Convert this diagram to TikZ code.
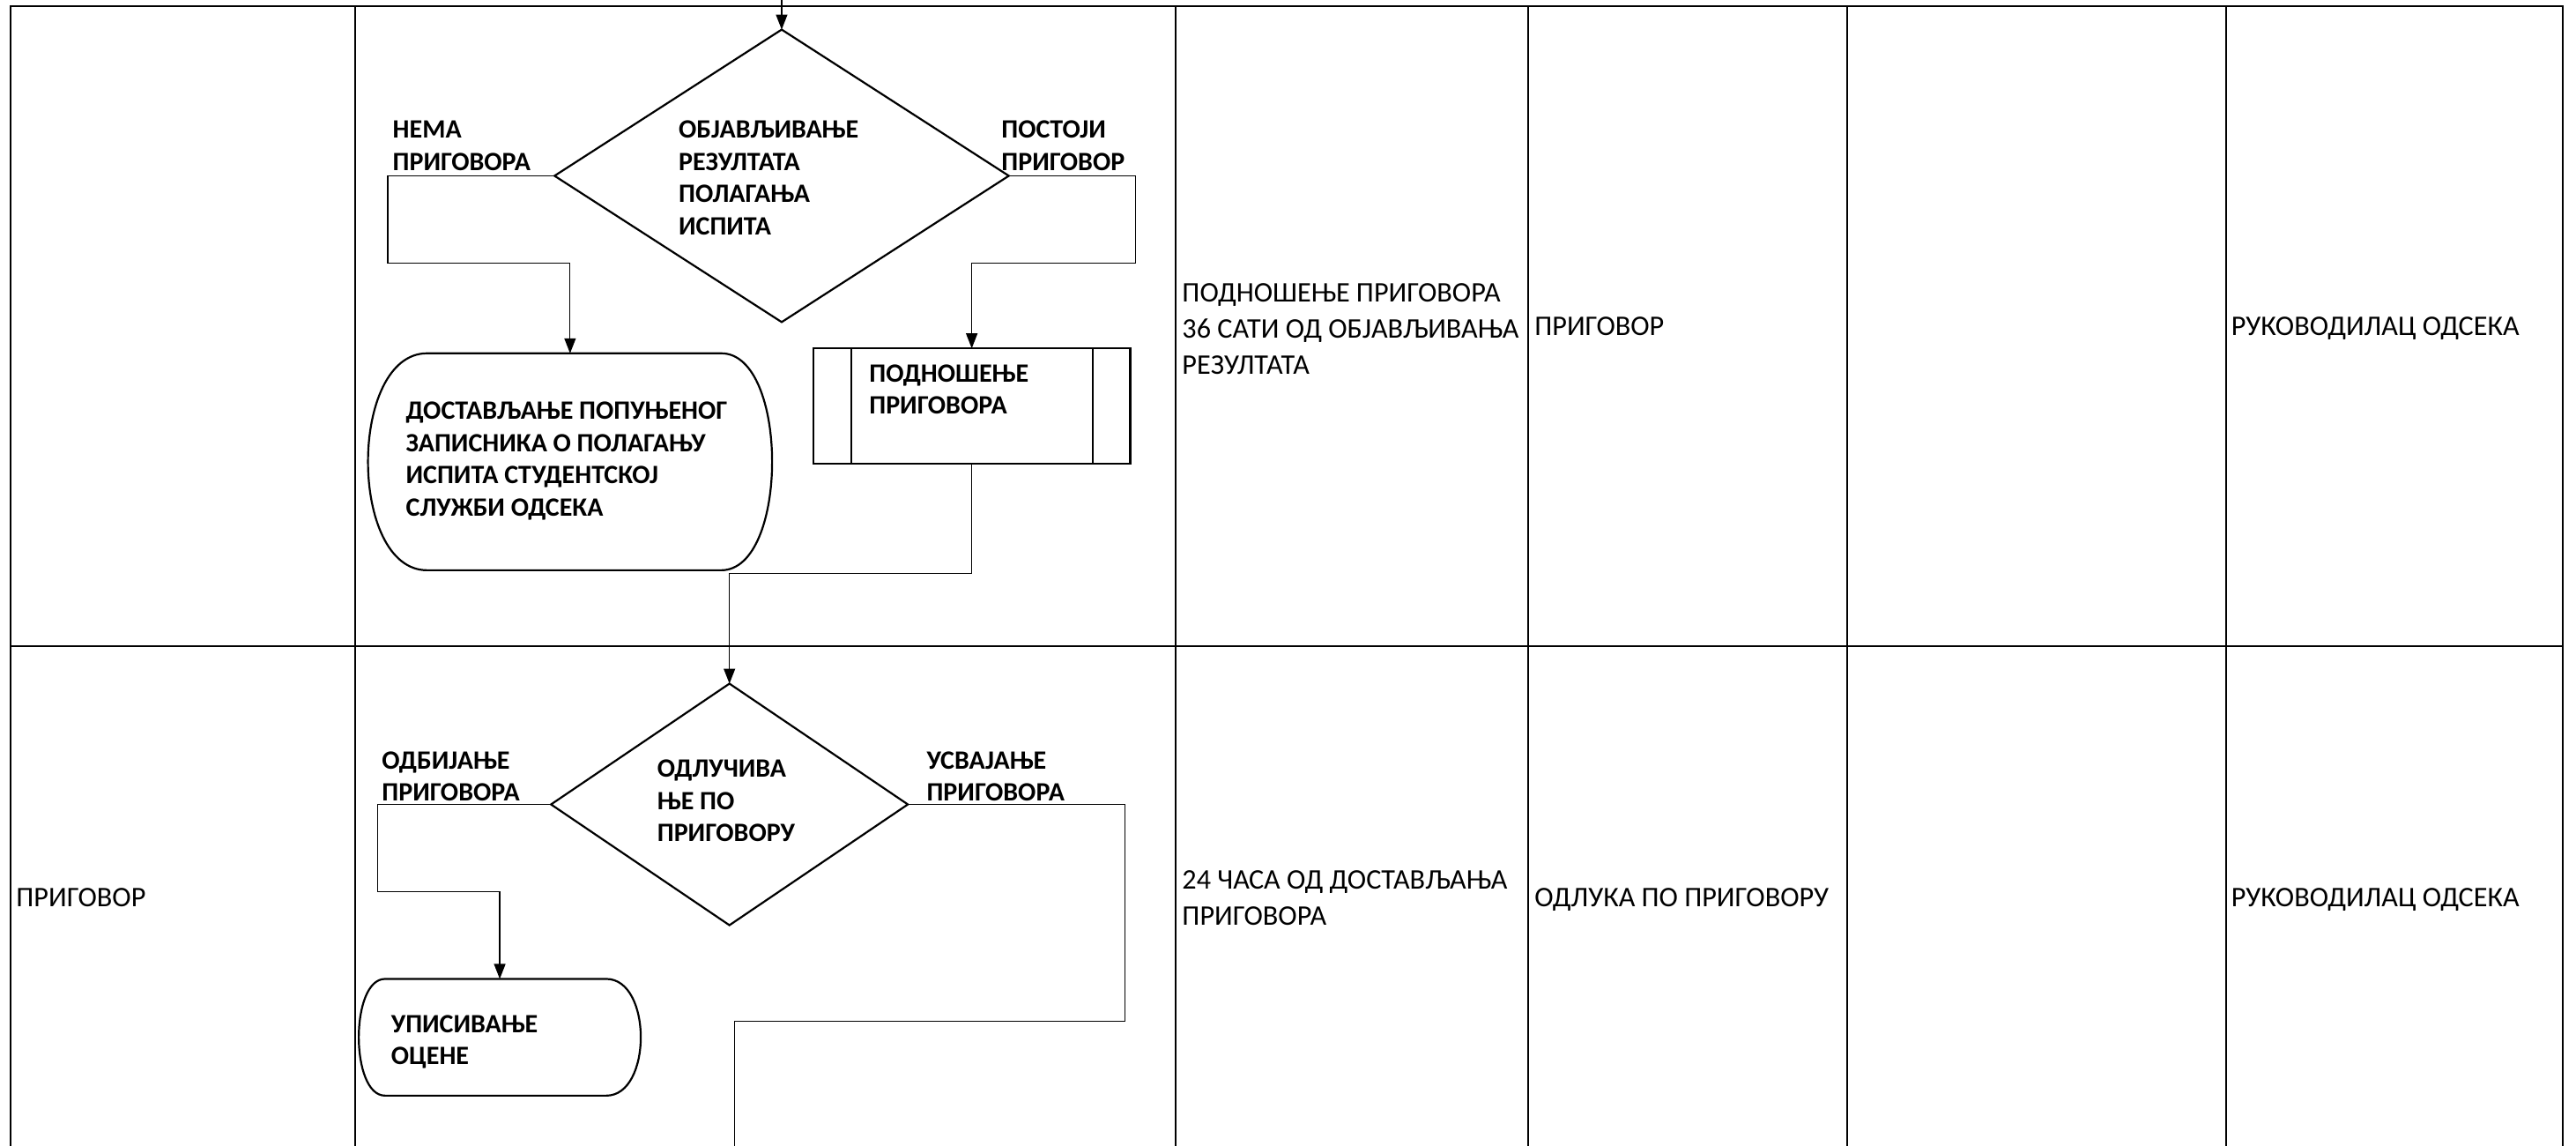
\documentclass[tikz,border=0pt]{standalone}
\usepackage{fontspec}
\setmainfont{Carlito}
\usetikzlibrary{shapes.geometric,arrows.meta,calc}

% type sizes: plain cell text and bold flowchart labels
\newcommand\celltext{\fontsize{32.2}{41}\selectfont}
\newcommand\flowtext{\fontsize{30}{36.5}\selectfont\bfseries}

\begin{document}
\begin{tikzpicture}[x=1.8642pt,y=-1.8642pt,
  gridline/.style={line width=2.4pt},
  shapeline/.style={line width=2.2pt},
  flow/.style={line width=1.2pt},
  arr/.style={flow,-{Triangle[length=17pt,width=13pt]}},
  decision/.style={diamond,draw,shapeline,inner sep=0pt,outer sep=0pt},
  subproc/.style={rectangle,draw,shapeline,inner sep=0pt,outer sep=0pt},
  termframe/.style={rectangle,draw=none,inner sep=0pt,outer sep=0pt},
  lbl/.style={anchor=north west,inner sep=0pt,align=left,font=\flowtext},
  cell/.style={anchor=north west,inner sep=0pt,align=left,font=\celltext},
]
\useasboundingbox (0,0) rectangle (1568,697);

% ---------- table grid ----------
\draw[gridline] (6.4,710) -- (6.4,3.75) -- (1560,3.75) -- (1560,710);
\draw[gridline] (6.4,393.2) -- (1560,393.2);
\foreach \cx in {216.2,715.6,930.2,1124.3,1355}
  \draw[gridline] (\cx,3.75) -- (\cx,710);

% ---------- cell texts ----------
\node[cell] (c31) at (719.5,168.3) {\strut ПОДНОШЕЊЕ ПРИГОВОРА\\36 САТИ ОД ОБЈАВЉИВАЊА\\РЕЗУЛТАТА};
\node[cell] (c41) at (934,188.8) {\strut ПРИГОВОР};
\node[cell] (c61) at (1358,188.8) {\strut РУКОВОДИЛАЦ ОДСЕКА};
\node[cell] (c12) at (9.8,536.3) {\strut ПРИГОВОР};
\node[cell] (c32) at (719.5,525.3) {\strut 24 ЧАСА ОД ДОСТАВЉАЊА\\ПРИГОВОРА};
\node[cell] (c42) at (934,536.3) {\strut ОДЛУКА ПО ПРИГОВОРУ};
\node[cell] (c62) at (1358,536.3) {\strut РУКОВОДИЛАЦ ОДСЕКА};

% ---------- flowchart shapes ----------
\node[decision,minimum width=515.5pt,minimum height=331.8pt] (d1) at (475.8,107) {};
\node[subproc,minimum width=359.8pt,minimum height=130.5pt] (sp) at (591.5,247) {};
\draw[shapeline] ($(sp.north west)+(23,0)$) -- ($(sp.south west)+(23,0)$);
\draw[shapeline] ($(sp.north east)+(-23,0)$) -- ($(sp.south east)+(-23,0)$);

\node[termframe,minimum width=458.6pt,minimum height=246.1pt] (t1) at (347,281) {};
\draw[shapeline] ($(t1.north west)+(36,0)$) -- ($(t1.north east)+(-31,0)$)
  .. controls ($(t1.north east)+(10.3,0)$) and ($(t1.south east)+(10.3,0)$) .. ($(t1.south east)+(-31,0)$)
  -- ($(t1.south west)+(36,0)$)
  .. controls ($(t1.south west)+(-12,0)$) and ($(t1.north west)+(-12,0)$) .. ($(t1.north west)+(36,0)$);

\node[decision,minimum width=404.9pt,minimum height=274pt] (d2) at (444,489.5) {};

\node[termframe,minimum width=320pt,minimum height=132.4pt] (t2) at (304.2,631.2) {};
\draw[shapeline] ($(t2.north west)+(16,0)$) -- ($(t2.north east)+(-21,0)$)
  .. controls ($(t2.north east)+(7,0)$) and ($(t2.south east)+(7,0)$) .. ($(t2.south east)+(-21,0)$)
  -- ($(t2.south west)+(16,0)$)
  .. controls ($(t2.south west)+(-5.3,0)$) and ($(t2.north west)+(-5.3,0)$) .. ($(t2.north west)+(16,0)$);

% ---------- flowchart labels ----------
\node[lbl] (d1txt) at (413,70.2) {\strut ОБЈАВЉИВАЊЕ\\РЕЗУЛТАТА\\ПОЛАГАЊА\\ИСПИТА};
\node[lbl] (no1) at (239,70.2) {\strut НЕМА\\ПРИГОВОРА};
\node[lbl] (yes1) at (609.5,70.2) {\strut ПОСТОЈИ\\ПРИГОВОР};
\node[lbl] (t1txt) at (247,241.5) {\strut ДОСТАВЉАЊЕ ПОПУЊЕНОГ\\ЗАПИСНИКА О ПОЛАГАЊУ\\ИСПИТА СТУДЕНТСКОЈ\\СЛУЖБИ ОДСЕКА};
\node[lbl] (sptxt) at (529,218.5) {\strut ПОДНОШЕЊЕ\\ПРИГОВОРА};
\node[lbl] (d2txt) at (400,459.2) {\strut ОДЛУЧИВА\\ЊЕ ПО\\ПРИГОВОРУ};
\node[lbl] (no2) at (232.4,454) {\strut ОДБИЈАЊЕ\\ПРИГОВОРА};
\node[lbl] (yes2) at (564,454) {\strut УСВАЈАЊЕ\\ПРИГОВОРА};
\node[lbl] (t2txt) at (238,614.5) {\strut УПИСИВАЊЕ\\ОЦЕНЕ};

% ---------- connectors ----------
\coordinate (in) at (475.8,0);
\coordinate (out) at (447,710);
\draw[arr] (in) -- (d1.north);
\draw[arr] (d1.west) -- ++(-101.5,0) -- ++(0,53) -| (t1.north);
\draw[arr] (d1.east) -- ++(77,0) -- ++(0,53) -| (sp.north);
\draw[arr] (sp.south) -- ++(0,67) -| (d2.north);
\draw[arr] (d2.west) -- ++(-105.6,0) -- ++(0,53) -| (t2.north);
\draw[flow] (d2.east) -- ++(132.3,0) -- ++(0,131.8) -| (out);
\end{tikzpicture}
\end{document}
